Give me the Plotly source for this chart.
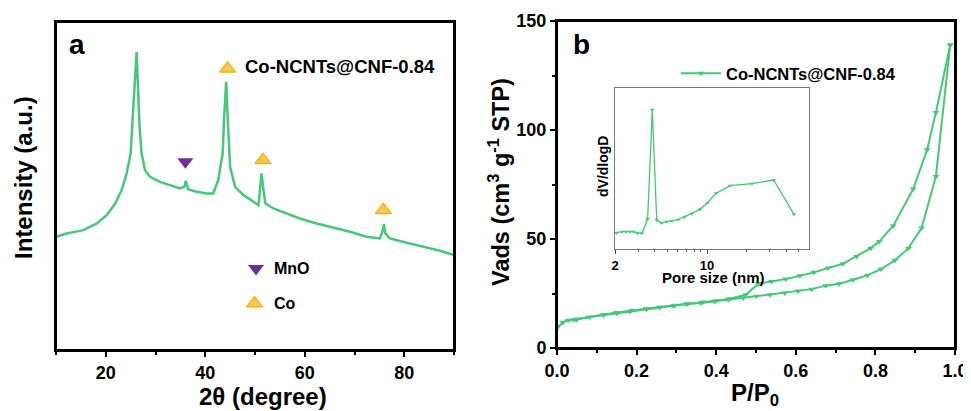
import plotly.graph_objects as go

W, H = 971, 411
# the page body has an 8px margin, so the figure is drawn from (8, 8)
OFF = 8

# ---- panel a: XRD pattern (arbitrary intensity) ----
xrd_2theta = [10.0, 12.1, 15.5, 18.2, 20.2, 21.9, 23.2, 24.2, 25.0, 25.5, 25.9, 26.2,
              26.4, 26.8, 27.2, 27.9, 28.9, 30.9, 32.9, 34.9, 35.8, 36.1, 36.6, 38.3,
              40.3, 41.6, 42.6, 43.5, 43.8, 44.2, 44.5, 45.0, 46.0, 47.7, 49.7, 50.7,
              51.0, 51.3, 51.7, 52.1, 53.7, 56.4, 59.0, 62.4, 65.7, 69.1, 72.4, 75.1,
              75.6, 75.9, 76.2, 77.1, 80.5, 83.8, 87.2, 90.0]
xrd_intensity = [34.0, 35.0, 36.0, 38.0, 40.5, 44.0, 48.0, 53.0, 59.0, 70.0, 82.0, 89.5,
                 82.0, 67.0, 59.0, 54.0, 52.0, 50.5, 49.5, 48.5, 49.0, 50.8, 48.2, 47.5,
                 47.0, 47.0, 51.0, 59.0, 70.0, 80.5, 70.0, 55.0, 49.0, 46.5, 44.5, 43.5,
                 48.0, 53.0, 48.0, 44.0, 42.5, 41.0, 39.5, 38.0, 36.8, 35.5, 34.0, 33.5,
                 35.5, 37.8, 35.0, 33.5, 32.2, 31.0, 29.8, 28.5]
mno_peaks_x = [36.0]
mno_peaks_y = [56.5]
co_peaks_x = [44.5, 51.6, 75.8]
co_peaks_y = [84.5, 57.0, 42.0]

# ---- panel b: N2 isotherm ----
ads_p = [0.003, 0.015, 0.028, 0.042, 0.049, 0.082, 0.117, 0.151, 0.183, 0.225, 0.258,
         0.292, 0.325, 0.361, 0.396, 0.430, 0.468, 0.501, 0.535, 0.572, 0.606, 0.640,
         0.675, 0.709, 0.744, 0.780, 0.814, 0.849, 0.883, 0.916, 0.952, 0.988]
ads_v = [9.9, 11.8, 12.7, 13.0, 13.0, 14.2, 15.1, 15.9, 16.8, 17.9, 18.6,
         19.4, 20.2, 20.6, 21.4, 22.1, 22.9, 23.7, 24.4, 25.2, 26.1, 27.0,
         28.6, 29.5, 31.3, 33.4, 36.2, 40.2, 45.8, 55.0, 78.7, 139.0]
des_p = [0.988, 0.952, 0.930, 0.895, 0.845, 0.810, 0.788, 0.753, 0.718, 0.681, 0.646,
         0.610, 0.575, 0.539, 0.506, 0.474, 0.434, 0.400, 0.367, 0.329, 0.296, 0.258,
         0.225, 0.187, 0.149, 0.116, 0.049]
des_v = [139.0, 108.0, 90.9, 72.9, 56.1, 48.9, 45.8, 42.0, 38.6, 36.7, 34.7,
         33.1, 31.6, 30.5, 29.5, 24.4, 22.6, 21.7, 21.1, 20.3, 19.6, 18.8,
         18.0, 17.3, 16.3, 15.3, 13.3]

# ---- inset: pore size distribution ----
pore_d = [1.89, 2.06, 2.26, 2.42, 2.60, 2.77, 2.96, 3.21, 3.54, 3.84, 4.15, 4.50,
          4.94, 5.42, 6.02, 6.77, 7.65, 8.85, 10.1, 11.7, 14.96, 21.98, 32.1, 45.8]
pore_dv = [4.3, 4.9, 5.2, 5.2, 5.2, 5.2, 4.7, 4.7, 9.0, 41.8, 8.7, 7.8,
           8.2, 8.4, 8.8, 9.7, 10.6, 11.9, 13.9, 16.7, 19.0, 19.6, 20.7, 10.4]

GREEN = "#46c77a"
PURPLE = "#6b2f9e"
GOLD_FILL = "#fbc94a"
GOLD_LINE = "#f2b10c"
FONT = "Liberation Sans"

# plot areas in screen pixels: left, right, top, bottom
AREA_A = (56, 454, 22, 350)
AREA_B = (557, 955, 21, 348)
AREA_IN = (615, 809, 88, 249)


def px_x(p):
    return (p - OFF) / W


def px_y(p):
    return 1 - (p - OFF) / H


def dom(area):
    l, r, t, b = area
    return [px_x(l), px_x(r)], [px_y(b), px_y(t)]


fig = go.Figure()

fig.add_trace(go.Scatter(x=xrd_2theta, y=xrd_intensity, mode="lines",
                         line=dict(color=GREEN, width=2.5), xaxis="x", yaxis="y",
                         showlegend=False))
fig.add_trace(go.Scatter(x=mno_peaks_x + [50.2], y=mno_peaks_y + [24.5], mode="markers",
                         marker=dict(symbol="triangle-down", size=14, color=PURPLE,
                                     line=dict(width=0)),
                         xaxis="x", yaxis="y", showlegend=False))
fig.add_trace(go.Scatter(x=co_peaks_x + [49.9], y=co_peaks_y + [14.0], mode="markers",
                         marker=dict(symbol="triangle-up", size=14, color=GOLD_FILL,
                                     line=dict(width=1.2, color=GOLD_LINE)),
                         xaxis="x", yaxis="y", showlegend=False))

fig.add_trace(go.Scatter(x=ads_p, y=ads_v, mode="lines+markers", name="Co-NCNTs@CNF-0.84",
                         line=dict(color=GREEN, width=2),
                         marker=dict(symbol="triangle-down", size=6, color=GREEN),
                         xaxis="x2", yaxis="y2", showlegend=True))
fig.add_trace(go.Scatter(x=des_p, y=des_v, mode="lines+markers",
                         line=dict(color=GREEN, width=2),
                         marker=dict(symbol="triangle-down", size=6, color=GREEN),
                         xaxis="x2", yaxis="y2", showlegend=False))

fig.add_trace(go.Scatter(x=pore_d, y=pore_dv, mode="lines+markers",
                         line=dict(color=GREEN, width=1.3),
                         marker=dict(symbol="triangle-down", size=4, color=GREEN),
                         xaxis="x3", yaxis="y3", showlegend=False))

# frames of the two main panels, drawn on a hidden full-page pixel overlay
frame_x, frame_y = [], []
for l, r, t, b in (AREA_A, AREA_B):
    frame_x += [l - OFF, r - OFF, r - OFF, l - OFF, l - OFF, None]
    frame_y += [b - OFF, b - OFF, t - OFF, t - OFF, b - OFF, None]
fig.add_trace(go.Scatter(x=frame_x, y=frame_y, mode="lines",
                         line=dict(color="#000000", width=2), hoverinfo="skip",
                         xaxis="x4", yaxis="y4", showlegend=False))

tickfont = dict(family=FONT, size=18, color="#000000", weight="bold")
box = dict(showline=True, linecolor="#000000", linewidth=2, mirror=True,
           showgrid=False, zeroline=False, automargin=False)
thin_box = dict(showline=True, linecolor="#777777", linewidth=1, mirror=True,
                showgrid=False, zeroline=False, automargin=False)

xa_dom, ya_dom = dom(AREA_A)
xb_dom, yb_dom = dom(AREA_B)
xi_dom, yi_dom = dom(AREA_IN)

fig.update_layout(
    width=W, height=H,
    margin=dict(l=0, r=0, t=0, b=0),
    paper_bgcolor="white", plot_bgcolor="rgba(0,0,0,0)",
    font=dict(family=FONT, color="#000000"),
    xaxis=dict(domain=xa_dom, range=[10, 90], tickvals=[20, 40, 60, 80],
               ticks="outside", ticklen=5, tickwidth=2, tickcolor="#000000",
               tickfont=tickfont,
               minor=dict(tickvals=[10, 30, 50, 70, 90], ticks="outside", ticklen=3,
                          tickwidth=1.5, tickcolor="#000000"),
               anchor="y", **box),
    yaxis=dict(domain=ya_dom, range=[0, 98.5], showticklabels=False,
               ticks="", anchor="x", **box),
    xaxis2=dict(domain=xb_dom, range=[0, 1.0], dtick=0.2,
                tickformat=".1f", ticks="outside", ticklen=5, tickwidth=2,
                tickcolor="#000000", tickfont=tickfont,
                minor=dict(dtick=0.1, ticks="outside", ticklen=3, tickwidth=1.5,
                           tickcolor="#000000"),
                anchor="y2", **box),
    yaxis2=dict(domain=yb_dom, range=[0, 150], dtick=50,
                ticks="outside", ticklen=5, tickwidth=2, tickcolor="#000000",
                tickfont=tickfont,
                minor=dict(dtick=25, ticks="outside", ticklen=3, tickwidth=1.5,
                           tickcolor="#000000"),
                anchor="x2", **box),
    xaxis3=dict(domain=xi_dom, type="log", range=[0.301, 1.775],
                tickvals=[2, 10], ticktext=["2", "10"], ticks="outside", ticklen=4,
                tickwidth=1, tickcolor="#444444",
                tickfont=dict(family=FONT, size=13, color="#000000", weight="bold"),
                minor=dict(tickvals=[3, 4, 5, 6, 7, 8, 9, 20, 30, 40, 50],
                           ticks="outside", ticklen=2, tickwidth=1, tickcolor="#666666"),
                anchor="y3", **thin_box),
    yaxis3=dict(domain=yi_dom, range=[0, 48.3], showticklabels=False,
                ticks="", anchor="x3", **thin_box),
    xaxis4=dict(domain=[0, 1], range=[0, W], visible=False, fixedrange=True,
                anchor="y4"),
    yaxis4=dict(domain=[0, 1], range=[H, 0], visible=False, fixedrange=True,
                anchor="x4"),
    showlegend=True,
    legend=dict(x=px_x(676), y=px_y(56), xanchor="left", yanchor="top",
                bgcolor="rgba(0,0,0,0)",
                font=dict(family=FONT, size=16.5, color="#000000", weight="bold"),
                itemwidth=40, tracegroupgap=0),
)

annotations = [
    # panel labels
    dict(text="<b>a</b>", x=px_x(77), y=px_y(44), font=dict(size=28)),
    dict(text="<b>b</b>", x=px_x(581), y=px_y(44), font=dict(size=28)),
    # panel a texts
    dict(text="<b>Co-NCNTs@CNF-0.84</b>", x=px_x(243), y=px_y(67), xanchor="left",
         font=dict(size=18.5)),
    dict(text="<b>MnO</b>", x=px_x(272), y=px_y(268), xanchor="left", font=dict(size=16)),
    dict(text="<b>Co</b>", x=px_x(272), y=px_y(303), xanchor="left", font=dict(size=16)),
    # axis titles
    dict(text="<b>2θ (degree)</b>", x=px_x(263), y=px_y(396), font=dict(size=24)),
    dict(text="<b>Intensity (a.u.)</b>", x=px_x(24), y=px_y(178), textangle=-90,
         font=dict(size=24)),
    dict(text="<b>P/P<sub>0</sub></b>", x=px_x(755), y=px_y(394), font=dict(size=24)),
    dict(text="<b>Vads (cm<sup>3</sup> g<sup>-1</sup> STP)</b>", x=px_x(499),
         y=px_y(182), textangle=-90, font=dict(size=23.5)),
    dict(text="<b>dV/dlogD</b>", x=px_x(603), y=px_y(167), textangle=-90,
         font=dict(size=14)),
    dict(text="<b>Pore size (nm)</b>", x=px_x(713), y=px_y(277), font=dict(size=15)),
]
for a in annotations:
    a.update(xref="paper", yref="paper", showarrow=False, yanchor="middle")
    a.setdefault("xanchor", "center")
    a["font"].update(family=FONT, color="#000000")
fig.update_layout(annotations=annotations)

fig.write_html("out.html")
